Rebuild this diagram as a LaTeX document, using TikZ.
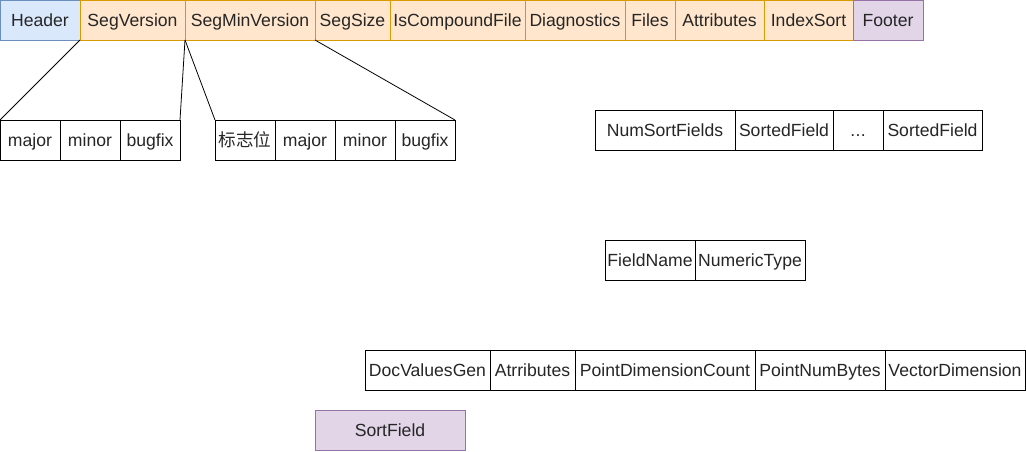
\documentclass[tikz,border=0pt]{standalone}
\usepackage{fontspec}
\setmainfont{Liberation Sans}
\newfontfamily\cjkfont{Noto Sans CJK SC}
\usepackage{tikz}
\usetikzlibrary{positioning}
\definecolor{header-fill}{HTML}{DAE8FC}
\definecolor{header-line}{HTML}{6C8EBF}
\definecolor{seg-fill}{HTML}{FFE6CC}
\definecolor{seg-line}{HTML}{D79B00}
\definecolor{footer-fill}{HTML}{E1D5E7}
\definecolor{footer-line}{HTML}{9673A6}
\tikzset{
    field-box/.style = {draw=black, fill=white, line width=1pt, rectangle, inner sep=0pt, outer sep=0pt,
        minimum height=40pt, text height=13pt, text depth=0pt,
        font=\fontsize{17.6}{20}\selectfont, text=black!85},
    header-box/.style = {field-box, draw=header-line, fill=header-fill},
    seg-box/.style = {field-box, draw=seg-line, fill=seg-fill},
    footer-box/.style = {field-box, draw=footer-line, fill=footer-fill},
    w/.style = {minimum width=#1pt},
}

\begin{document}
\begin{tikzpicture}[x=1pt, y=-1pt]
\useasboundingbox (0,0) rectangle (1026,451);
% segment info file layout
\node[header-box, w=80, anchor=north west] (header) at (0,0) {Header};
\node[seg-box, w=105, right=0pt of header] (seg-version) {SegVersion};
\node[seg-box, w=130, right=0pt of seg-version] (seg-min-version) {SegMinVersion};
\node[seg-box, w=75, right=0pt of seg-min-version] (seg-size) {SegSize};
\node[seg-box, w=135, right=0pt of seg-size] (compound) {IsCompoundFile};
\node[seg-box, w=100, right=0pt of compound] (diagnostics) {Diagnostics};
\node[seg-box, w=50, right=0pt of diagnostics] (files) {Files};
\node[seg-box, w=89, right=0pt of files] (attributes) {Attributes};
\node[seg-box, w=89, right=0pt of attributes] (index-sort) {IndexSort};
\node[footer-box, w=70, right=0pt of index-sort] (footer) {Footer};

% version
\node[field-box, w=60, anchor=north west] (major) at (0,120) {major};
\node[field-box, w=60, right=0pt of major] (minor) {minor};
\node[field-box, w=60, right=0pt of minor] (bugfix) {bugfix};

% min version
\node[field-box, w=60, anchor=north west] (flag) at (215,120) {\cjkfont 标志位};
\node[field-box, w=60, right=0pt of flag] (min-major) {major};
\node[field-box, w=60, right=0pt of min-major] (min-minor) {minor};
\node[field-box, w=60, right=0pt of min-minor] (min-bugfix) {bugfix};

\draw[line width=0.8pt] (seg-version.south west) -- (major.north west);
\draw[line width=0.8pt] (seg-version.south east) -- (bugfix.north east);
\draw[line width=0.8pt] (seg-min-version.south west) -- (flag.north west);
\draw[line width=0.8pt] (seg-min-version.south east) -- (min-bugfix.north east);

% index sort
\node[field-box, w=140, anchor=north west] (num-sort) at (595,110) {NumSortFields};
\node[field-box, w=98, right=0pt of num-sort] (sorted-a) {SortedField};
\node[field-box, w=50, right=0pt of sorted-a] (sorted-dots) {.\kern0.4pt.\kern0.4pt.};
\node[field-box, w=99, right=0pt of sorted-dots] (sorted-b) {SortedField};

\node[field-box, w=90, anchor=north west] (field-name) at (605,240) {FieldName};
\node[field-box, w=110, right=0pt of field-name] (numeric-type) {NumericType};

\node[field-box, w=125, anchor=north west] (dv-gen) at (365,350) {DocValuesGen};
\node[field-box, w=85, right=0pt of dv-gen] (atrributes) {Atrributes};
\node[field-box, w=180, right=0pt of atrributes] (point-dim) {PointDimensionCount};
\node[field-box, w=130, right=0pt of point-dim] (point-bytes) {PointNumBytes};
\node[field-box, w=140, right=0pt of point-bytes] (vector-dim) {VectorDimension};

\node[footer-box, w=150, anchor=north west] (sort-field) at (315,410) {SortField};
\end{tikzpicture}
\end{document}
